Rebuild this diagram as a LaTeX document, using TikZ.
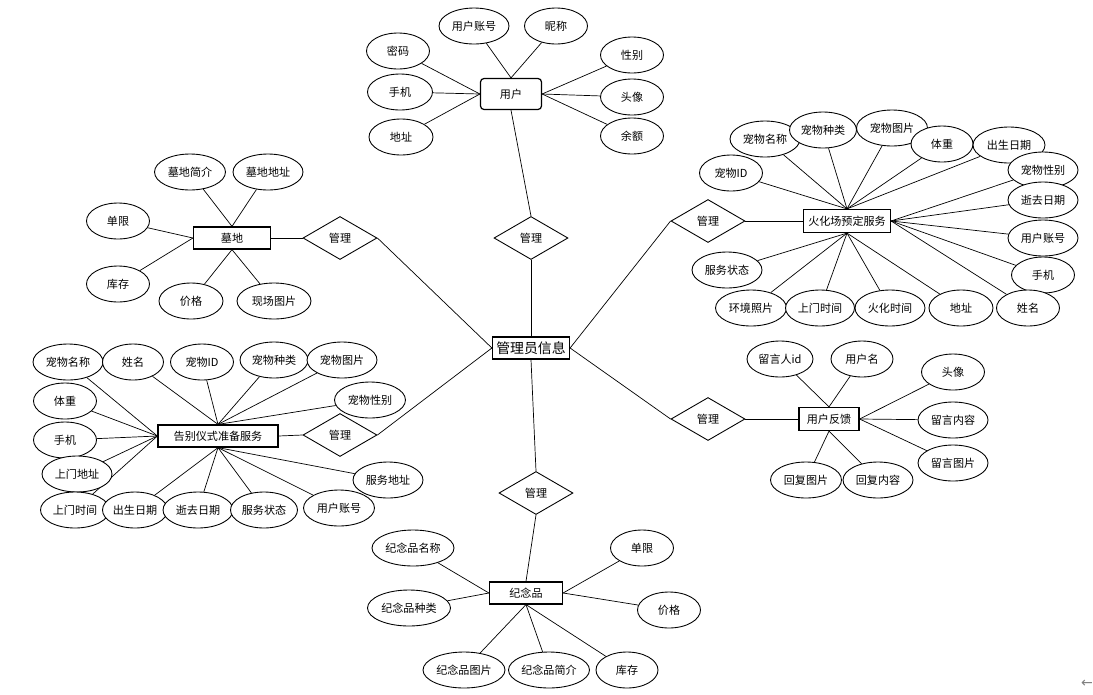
\documentclass[tikz,border=0pt]{standalone}
\usepackage{fontspec}
\newfontfamily\cjk{Noto Sans CJK SC}
\newfontfamily\symb{DejaVu Sans}
\usetikzlibrary{shapes.geometric,backgrounds}
\newcommand{\attr}[4]{\node[attr,minimum width=#3cm] (#1) at (#2) {#4}}
\newcommand{\lien}[2]{\draw (#1) -- (#2)}

\begin{document}
\begin{tikzpicture}[x=0.02cm,y=-0.02cm,line width=0.5pt,
	attr/.style={ellipse,draw,fill=white,inner sep=0pt,minimum height=0.72cm,
		font=\cjk\fontsize{6.3}{7}\selectfont},
	ent/.style={rectangle,draw,fill=white,inner sep=0pt,minimum height=0.44cm,
		line width=0.7pt,font=\cjk\fontsize{6.3}{7}\selectfont},
	rel/.style={diamond,draw,fill=white,inner sep=0pt,minimum width=1.48cm,
		minimum height=0.86cm,font=\cjk\fontsize{6.3}{7}\selectfont}]
\useasboundingbox (0,0) rectangle (1093,694);
%Centre
	\node[ent,minimum width=1.54cm,font=\cjk\fontsize{7.9}{9}\selectfont] (admin) at (531,348) {管理员信息};
	\node[rel] (mU) at (531,238) {管理};
	\node[rel] (mM) at (340,238) {管理};
	\node[rel] (mG) at (340,435) {管理};
	\node[rel] (mH) at (708,221) {管理};
	\node[rel] (mF) at (708,419) {管理};
	\node[rel] (mJ) at (536,493) {管理};
%User
	\node[ent,rounded corners=2pt,minimum width=1.22cm,minimum height=0.62cm] (u) at (511,94) {用户};
	\attr{uzh}{474,26}{1.4}{用户账号};
	\attr{unc}{556,26}{1.26}{昵称};
	\attr{umm}{398,51}{1.26}{密码};
	\attr{usj}{400,92}{1.3}{手机};
	\attr{udz}{401,137}{1.28}{地址};
	\attr{uxb}{632,55}{1.26}{性别};
	\attr{utx}{632,97}{1.26}{头像};
	\attr{uye}{632,136}{1.26}{余额};
%Cemetery
	\node[ent,minimum width=1.54cm] (m) at (232,238) {墓地};
	\attr{mjj}{190,172}{1.42}{墓地简介};
	\attr{mdz}{268,172}{1.4}{墓地地址};
	\attr{mdx}{118,221}{1.26}{单限};
	\attr{mkc}{118,284}{1.26}{库存};
	\attr{mjg}{191,301}{1.28}{价格};
	\attr{mtp}{274,301}{1.48}{现场图片};
%Cremation
	\node[ent,minimum width=1.74cm,minimum height=0.46cm] (h) at (847,221) {火化场预定服务};
	\attr{hmc}{765,139}{1.4}{宠物名称};
	\attr{hzl}{823,130}{1.34}{宠物种类};
	\attr{htp}{892,128}{1.42}{宠物图片};
	\attr{htz}{942,144}{1.24}{体重};
	\attr{hcs}{1009,145}{1.44}{出生日期};
	\attr{hid}{731,173}{1.26}{宠物ID};
	\attr{hxb}{1043,170}{1.4}{宠物性别};
	\attr{hsq}{1043,200}{1.4}{逝去日期};
	\attr{hzh}{1043,238}{1.4}{用户账号};
	\attr{hsj}{1043,275}{1.26}{手机};
	\attr{hxm}{1028,308}{1.26}{姓名};
	\attr{hzt}{727,270}{1.4}{服务状态};
	\attr{hhj}{751,308}{1.42}{环境照片};
	\attr{hsm}{820,308}{1.38}{上门时间};
	\attr{hhh}{890,308}{1.4}{火化时间};
	\attr{hdz}{961,308}{1.28}{地址};
%Feedback
	\node[ent,minimum width=1.2cm,minimum height=0.46cm] (f) at (829,419) {用户反馈};
	\attr{fid}{780,359}{1.32}{留言人id};
	\attr{fyh}{862,359}{1.24}{用户名};
	\attr{ftx}{953,372}{1.26}{头像};
	\attr{fnr}{953,420}{1.4}{留言内容};
	\attr{ftp}{953,463}{1.4}{留言图片};
	\attr{fht}{806,480}{1.42}{回复图片};
	\attr{fhn}{878,480}{1.4}{回复内容};
%Farewell
	\node[ent,minimum width=2.4cm] (g) at (218,436) {告别仪式准备服务};
	\attr{gmc}{68,362}{1.4}{宠物名称};
	\attr{gxm}{133,362}{1.22}{姓名};
	\attr{gid}{202,362}{1.26}{宠物ID};
	\attr{gzl}{274,360}{1.36}{宠物种类};
	\attr{gtp}{342,360}{1.4}{宠物图片};
	\attr{gxb}{370,400}{1.42}{宠物性别};
	\attr{gtz}{65,401}{1.26}{体重};
	\attr{gsj}{65,440}{1.26}{手机};
	\attr{gdz}{77,474}{1.4}{上门地址};
	\attr{gsm}{75,510}{1.38}{上门时间};
	\attr{gcs}{135,510}{1.3}{出生日期};
	\attr{gsq}{198,510}{1.4}{逝去日期};
	\attr{gzt}{264,510}{1.34}{服务状态};
	\attr{gzh}{339,508}{1.42}{用户账号};
	\attr{gfd}{388,480}{1.4}{服务地址};
%Souvenir
	\node[ent,minimum width=1.46cm] (j) at (526,593) {纪念品};
	\attr{jmc}{413,548}{1.64}{纪念品名称};
	\attr{jzl}{409,608}{1.66}{纪念品种类};
	\attr{jdx}{642,548}{1.26}{单限};
	\attr{jjg}{669,610}{1.26}{价格};
	\attr{jtp}{464,670}{1.64}{纪念品图片};
	\attr{jjj}{549,670}{1.62}{纪念品简介};
	\attr{jkc}{627,670}{1.24}{库存};
%Back arrow
	\node[text=gray,font=\symb\fontsize{8}{9}\selectfont] (back) at (1087,684) {←};
%Links
\begin{pgfonlayer}{background}
	\lien{admin.north}{mU.south};
	\lien{mU.north}{u.south};
	\lien{admin.west}{mM.east};
	\lien{mM.west}{m.east};
	\lien{admin.west}{mG.east};
	\lien{mG.west}{g.east};
	\lien{admin.east}{mH.west};
	\lien{mH.east}{h.west};
	\lien{admin.east}{mF.west};
	\lien{mF.east}{f.west};
	\lien{admin.south}{mJ.north};
	\lien{mJ.south}{j.north};
	\foreach \a in {uzh,unc} {\lien{u.north}{\a};}
	\foreach \a in {umm,usj,udz} {\lien{u.west}{\a};}
	\foreach \a in {uxb,utx,uye} {\lien{u.east}{\a};}
	\foreach \a in {mjj,mdz} {\lien{m.north}{\a};}
	\foreach \a in {mdx,mkc} {\lien{m.west}{\a};}
	\foreach \a in {mjg,mtp} {\lien{m.south}{\a};}
	\foreach \a in {hid,hmc,hzl,htp,htz,hcs} {\lien{h.north}{\a};}
	\foreach \a in {hxb,hsq,hzh,hsj,hxm} {\lien{h.east}{\a};}
	\foreach \a in {hzt,hhj,hsm,hhh,hdz} {\lien{h.south}{\a};}
	\foreach \a in {fid,fyh} {\lien{f.north}{\a};}
	\foreach \a in {ftx,fnr,ftp} {\lien{f.east}{\a};}
	\foreach \a in {fht,fhn} {\lien{f.south}{\a};}
	\foreach \a in {gxm,gid,gzl,gtp,gxb} {\lien{g.north}{\a};}
	\foreach \a in {gmc,gtz,gsj,gdz,gsm} {\lien{g.west}{\a};}
	\foreach \a in {gcs,gsq,gzt,gzh,gfd} {\lien{g.south}{\a};}
	\foreach \a in {jmc,jzl} {\lien{j.west}{\a};}
	\foreach \a in {jdx,jjg} {\lien{j.east}{\a};}
	\foreach \a in {jtp,jjj,jkc} {\lien{j.south}{\a};}
\end{pgfonlayer}
\end{tikzpicture}
\end{document}
